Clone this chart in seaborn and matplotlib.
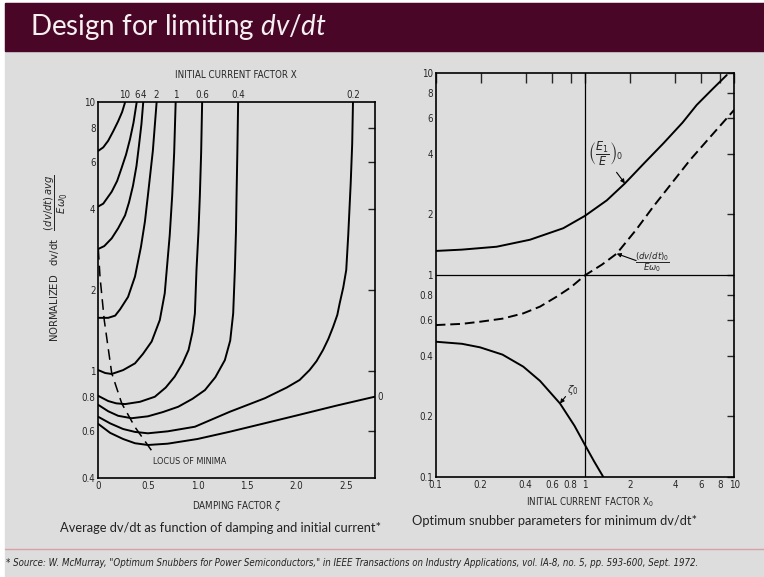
import pandas as pd
import matplotlib
matplotlib.use('Agg')
import matplotlib.pyplot as plt
import seaborn as sns
from matplotlib.patches import Rectangle
from matplotlib.lines import Line2D

# ---- left chart: average dv/dt vs damping factor, one curve per initial current factor X
current_labels = ['10', '6', '4', '2', '1', '0.6', '0.4', '0.2', '0']
zeta_x10 = [0, 0.05, 0.10, 0.15, 0.20, 0.24, 0.27]
dvdt_x10 = [6.6, 6.8, 7.2, 7.8, 8.5, 9.2, 10]
zeta_x6 = [0, 0.05, 0.135, 0.19, 0.235, 0.28, 0.32, 0.355, 0.387]
dvdt_x6 = [4.1, 4.2, 4.65, 5.1, 5.7, 6.4, 7.3, 8.4, 10]
zeta_x4 = [0, 0.06, 0.135, 0.20, 0.27, 0.31, 0.35, 0.385, 0.41, 0.435, 0.453]
dvdt_x4 = [2.85, 2.92, 3.12, 3.4, 3.8, 4.25, 4.9, 5.8, 6.9, 8.3, 10]
zeta_x2 = [0, 0.10, 0.17, 0.22, 0.30, 0.37, 0.43, 0.47, 0.50, 0.55, 0.588]
dvdt_x2 = [1.58, 1.58, 1.61, 1.70, 1.89, 2.25, 2.9, 3.6, 4.5, 6.6, 10]
zeta_x1 = [0, 0.07, 0.135, 0.25, 0.37, 0.45, 0.538, 0.62, 0.67, 0.69, 0.72, 0.745, 0.765, 0.78]
dvdt_x1 = [1.01, 0.985, 0.977, 1.01, 1.07, 1.16, 1.29, 1.55, 1.95, 2.38, 3.2, 4.5, 6.5, 10]
zeta_x06 = [0, 0.10, 0.18, 0.27, 0.42, 0.57, 0.68, 0.77, 0.85, 0.91, 0.95, 0.974, 0.99, 1.01, 1.024, 1.037, 1.047]
dvdt_x06 = [0.81, 0.775, 0.76, 0.755, 0.77, 0.804, 0.87, 0.955, 1.07, 1.2, 1.4, 1.64, 2.38, 3.3, 4.5, 6.5, 10]
zeta_x04 = [0, 0.10, 0.20, 0.336, 0.50, 0.65, 0.806, 0.95, 1.075, 1.18, 1.276, 1.33, 1.36, 1.377, 1.388, 1.394, 1.402, 1.41]
dvdt_x04 = [0.75, 0.71, 0.683, 0.669, 0.68, 0.705, 0.738, 0.79, 0.851, 0.95, 1.10, 1.3, 1.64, 2.38, 3.3, 4.5, 6.5, 10]
zeta_x02 = [0, 0.12, 0.25, 0.37, 0.50, 0.70, 0.974, 1.326, 1.68, 1.90, 2.03, 2.13, 2.20, 2.266, 2.32,
            2.367, 2.41, 2.434, 2.47, 2.50, 2.52, 2.545, 2.56, 2.568]
dvdt_x02 = [0.677, 0.64, 0.61, 0.595, 0.588, 0.598, 0.622, 0.707, 0.794, 0.87, 0.928, 1.01, 1.09, 1.2, 1.32,
            1.46, 1.62, 1.79, 2.05, 2.38, 3.2, 5.0, 7.0, 10]
zeta_x0 = [0, 0.12, 0.25, 0.37, 0.50, 0.70, 1.0, 1.326, 1.68, 2.0, 2.4, 2.786]
dvdt_x0 = [0.637, 0.59, 0.56, 0.54, 0.532, 0.538, 0.56, 0.596, 0.641, 0.685, 0.745, 0.804]
locus_zeta = [0, 0.017, 0.06, 0.135, 0.236, 0.37, 0.554]
locus_dvdt = [2.85, 2.25, 1.55, 0.985, 0.76, 0.62, 0.497]
left_yticks = [0.4, 0.6, 0.8, 1, 2, 4, 6, 8, 10]
left_ytick_labels = ['0.4', '0.6', '0.8', '1', '2', '4', '6', '8', '10']
left_xticks = [0, 0.5, 1.0, 1.5, 2.0, 2.5]
left_xtick_labels = ['0', '0.5', '1.0', '1.5', '2.0', '2.5']

# ---- right chart: optimum snubber parameters vs initial current factor X0
x0_e1 = [0.1, 0.15, 0.256, 0.428, 0.715, 1.0, 1.4, 1.85, 2.5, 3.35, 4.5, 5.6, 7.2, 8.9]
e1_ratio = [1.32, 1.34, 1.385, 1.50, 1.71, 1.97, 2.35, 2.85, 3.6, 4.5, 5.7, 6.97, 8.4, 9.8]
x0_dvdt = [0.1, 0.15, 0.198, 0.28, 0.386, 0.5, 0.646, 0.8, 1.0, 1.3, 1.63, 2.2, 2.87, 3.8, 5.05, 7.0, 10]
dvdt_opt = [0.567, 0.575, 0.589, 0.61, 0.648, 0.70, 0.784, 0.87, 1.0, 1.13, 1.28, 1.68, 2.19, 2.85, 3.72, 4.9, 6.6]
x0_zeta = [0.1, 0.15, 0.198, 0.28, 0.386, 0.5, 0.68, 0.85, 1.0, 1.15, 1.33]
zeta_opt = [0.469, 0.458, 0.44, 0.405, 0.353, 0.30, 0.232, 0.18, 0.1445, 0.12, 0.1]
right_ticks = [0.1, 0.2, 0.4, 0.6, 0.8, 1, 2, 4, 6, 8, 10]
right_tick_labels = ['0.1', '0.2', '0.4', '0.6', '0.8', '1', '2', '4', '6', '8', '10']

W, H = 764, 577
sns.set_style('white')
plt.rcParams['font.family'] = ['DejaVu Sans']
plt.rcParams['font.stretch'] = 'condensed'
plt.rcParams['mathtext.fontset'] = 'custom'
plt.rcParams['mathtext.it'] = 'Lato:italic'
plt.rcParams['mathtext.rm'] = 'Lato'

bg = '#dddddd'
fig = plt.figure(figsize=(W / 100, H / 100), dpi=100, facecolor='white')
fig.add_artist(Rectangle((5 / W, 0), 1, 1 - 3 / H, transform=fig.transFigure, color=bg, zorder=-5))
fig.add_artist(Rectangle((5 / W, 1 - 51 / H), 1, 48 / H, transform=fig.transFigure, color='#4a0626', zorder=-4))
title = fig.text(30 / W, 1 - 27 / H, 'Design for limiting $dv/dt$', color='#f4f0f2', fontsize=20,
                 family='Lato', stretch='normal', va='center', ha='left')
title.set_math_fontfamily('custom')


def px_rect(left, top, right, bottom):
    return [left / W, 1 - bottom / H, (right - left) / W, (bottom - top) / H]


line_kw = dict(color='black', lw=1.4, estimator=None, sort=False, legend=False)
tick_font = 7

# ---------------- left chart
ax1 = fig.add_axes(px_rect(98.3, 102.3, 375, 478.3))
ax1.set_facecolor('none')
curves = pd.concat([
    pd.DataFrame({'X': lab, 'zeta': z, 'dvdt': d})
    for lab, z, d in zip(current_labels,
                         [zeta_x10, zeta_x6, zeta_x4, zeta_x2, zeta_x1, zeta_x06, zeta_x04, zeta_x02, zeta_x0],
                         [dvdt_x10, dvdt_x6, dvdt_x4, dvdt_x2, dvdt_x1, dvdt_x06, dvdt_x04, dvdt_x02, dvdt_x0])
])
sns.lineplot(data=curves, x='zeta', y='dvdt', units='X', ax=ax1, **line_kw)
sns.lineplot(x=locus_zeta, y=locus_dvdt, ax=ax1, color='black', lw=1.1, linestyle=(0, (7, 4)),
             estimator=None, sort=False)
ax1.set_yscale('log')
ax1.set_xlim(0, 2.79)
ax1.set_ylim(0.4, 10)
ax1.set_yticks(left_yticks, left_ytick_labels)
ax1.set_xticks(left_xticks, left_xtick_labels)
ax1.minorticks_off()
ax1.set_xlabel('')
ax1.set_ylabel('')
ax1.tick_params(direction='in', length=5, width=1, labelsize=tick_font, pad=2)
ax1.tick_params(axis='x', length=7)
rax = ax1.secondary_yaxis('right')
rax.set_yticks([0.6, 1, 2, 4, 6, 8], [])
rax.tick_params(direction='in', length=5, width=1)
rax.minorticks_off()
for s in ax1.spines.values():
    s.set_linewidth(1.2)
    s.set_color('black')
rax.spines['right'].set_visible(False)

# curve labels along the top edge and at the right end of X = 0
for lab, grp in curves.groupby('X', sort=False):
    end = grp.iloc[-1]
    if lab == '0':
        ax1.annotate(lab, xy=(end['zeta'], end['dvdt']), xytext=(2, 0), textcoords='offset points',
                     ha='left', va='center', fontsize=tick_font, annotation_clip=False)
    else:
        ax1.annotate(lab, xy=(end['zeta'], end['dvdt']), xytext=(0, 2), textcoords='offset points',
                     ha='center', va='bottom', fontsize=tick_font, annotation_clip=False)
ax1.annotate('LOCUS OF MINIMA', xy=(locus_zeta[-1], locus_dvdt[-1]), xytext=(0, -3),
             textcoords='offset points', ha='left', va='top', fontsize=6.5)
fig.text(236 / W, 1 - 75 / H, 'INITIAL CURRENT FACTOR X', ha='center', va='center', fontsize=7)
fig.text(237 / W, 1 - 506 / H, r'DAMPING FACTOR $\zeta$', ha='center', va='center', fontsize=7,
         math_fontfamily='dejavusans')
fig.text(56 / W, 1 - 258 / H, r'NORMALIZED   dv/dt   $\dfrac{(dv/dt)\,avg}{E\omega_0}$', rotation=90,
         ha='center', va='center', fontsize=8, math_fontfamily='dejavusans')

# ---------------- right chart
ax2 = fig.add_axes(px_rect(435.7, 73.3, 734.3, 477.3))
ax2.set_facecolor('none')
ax2.axvline(1, color='black', lw=0.9)
ax2.axhline(1, color='black', lw=0.9)
sns.lineplot(x=x0_e1, y=e1_ratio, ax=ax2, **line_kw)
sns.lineplot(x=x0_dvdt, y=dvdt_opt, ax=ax2, color='black', lw=1.4, linestyle=(0, (5, 2.5)),
             estimator=None, sort=False)
sns.lineplot(x=x0_zeta, y=zeta_opt, ax=ax2, **line_kw)
ax2.set_xscale('log')
ax2.set_yscale('log')
ax2.set_xlim(0.1, 10)
ax2.set_ylim(0.1, 10)
ax2.set_xticks(right_ticks, right_tick_labels)
ax2.set_yticks(right_ticks, right_tick_labels)
ax2.minorticks_off()
ax2.tick_params(direction='in', length=5, width=1, labelsize=tick_font, pad=2,
                top=True, right=True)
ax2.tick_params(axis='x', length=7)
for s in ax2.spines.values():
    s.set_linewidth(1.2)
    s.set_color('black')

arrow = dict(arrowstyle='-|>', color='black', lw=0.8, mutation_scale=6, shrinkA=0, shrinkB=0)
tip = (x0_e1[7], e1_ratio[7])
ax2.annotate(r'$\left(\dfrac{E_1}{E}\right)_0$', xy=tip, xytext=(-14, 21), textcoords='offset points',
             ha='center', va='center', fontsize=9, math_fontfamily='dejavusans')
ax2.annotate('', xy=tip, xytext=(-6, 8), textcoords='offset points', arrowprops=arrow)
tip = (x0_dvdt[10], dvdt_opt[10])
ax2.annotate(r'$\dfrac{(dv/dt)_0}{E\omega_0}$', xy=tip, xytext=(26, -6), textcoords='offset points',
             ha='center', va='center', fontsize=6.8, math_fontfamily='dejavusans')
ax2.annotate('', xy=tip, xytext=(14, -5), textcoords='offset points', arrowprops=arrow)
tip = (x0_zeta[6], zeta_opt[6])
ax2.annotate(r'$\zeta_0$', xy=tip, xytext=(9, 10), textcoords='offset points',
             ha='center', va='center', fontsize=8, math_fontfamily='dejavusans')
ax2.annotate('', xy=tip, xytext=(4, 5), textcoords='offset points', arrowprops=arrow)
fig.text(590 / W, 1 - 502 / H, r'INITIAL CURRENT FACTOR X$_0$', ha='center', va='center', fontsize=7,
         math_fontfamily='dejavusans')

# ---------------- captions and source
cap = dict(family='Lato', stretch='normal', fontsize=9.3, ha='center', va='center', color='#222222')
fig.text(221 / W, 1 - 528 / H, 'Average dv/dt as function of damping and initial current*', **cap)
fig.text(555 / W, 1 - 521 / H, 'Optimum snubber parameters for minimum dv/dt*', **cap)
fig.add_artist(Line2D([5 / W, 1], [1 - 549 / H] * 2, transform=fig.transFigure, color='#d8a0a8', lw=1))
fig.text(6 / W, 1 - 563 / H,
         '* Source: W. McMurray, "Optimum Snubbers for Power Semiconductors," in IEEE Transactions on '
         'Industry Applications, vol. IA-8, no. 5, pp. 593-600, Sept. 1972.',
         style='italic', fontsize=6.9, ha='left', va='center', color='#222222')

fig.savefig('out.png', dpi=100, facecolor=fig.get_facecolor())
